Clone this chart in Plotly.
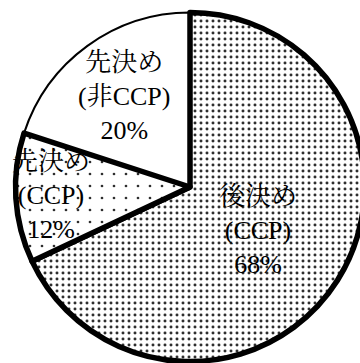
import math
import plotly.graph_objects as go

# ---- data (drawing order: white slice first, then clockwise) ----
labels = ["先決め<br>(非CCP)", "後決め<br>(CCP)", "先決め<br>(CCP)"]
values = [20, 68, 12]
pct_text = ["20%", "68%", "12%"]

# ---- styles ----
line_widths = [2, 5.5, 5.5]
pat_shapes = ["", ".", "."]
pat_sizes = [6, 6, 12]
pat_solid = [0.2, 0.19, 0.04]
label_rfrac = [0.64, 0.46, 0.80]

W, H = 370, 366
cx, cy, R = 190.0, 187.0, 174.5

total = sum(values)
rotation = 360.0 * (1 - values[0] / total)  # white slice ends at 12 o'clock
if rotation > 180:
    rotation -= 360

fig = go.Figure(go.Pie(
    labels=labels,
    values=values,
    sort=False,
    direction="clockwise",
    rotation=rotation,
    textinfo="none",
    hoverinfo="skip",
    showlegend=False,
    domain=dict(x=[(cx - R) / W, (cx + R) / W],
                y=[1 - (cy + R) / H, 1 - (cy - R) / H]),
    marker=dict(
        colors=["white", "white", "white"],
        line=dict(color="black", width=line_widths),
        pattern=dict(shape=pat_shapes, size=pat_sizes, solidity=pat_solid,
                     fgcolor="#2e2e2e", bgcolor="white", fillmode="replace"),
    ),
))

# labels placed at each slice's mid-angle
ann = []
start = rotation
for lab, v, p, rf in zip(labels, values, pct_text, label_rfrac):
    mid = math.radians(start + 180.0 * v / total)
    px = cx + rf * R * math.sin(mid)
    py = cy - rf * R * math.cos(mid)
    ann.append(dict(x=px / W, y=1 - py / H, xref="paper", yref="paper",
                    text=lab + "<br>" + p, showarrow=False,
                    xanchor="center", yanchor="middle", align="center",
                    font=dict(family="Liberation Serif, Noto Serif CJK JP, Noto Sans CJK JP",
                              size=26, color="black")))
    start += 360.0 * v / total

fig.update_layout(
    width=W, height=H,
    margin=dict(l=0, r=0, t=0, b=0),
    paper_bgcolor="white", plot_bgcolor="white",
    annotations=ann,
)

fig.write_html("out.html", post_script="document.documentElement.style.overflow='hidden';document.body.style.overflow='hidden';document.body.style.margin='0';")
